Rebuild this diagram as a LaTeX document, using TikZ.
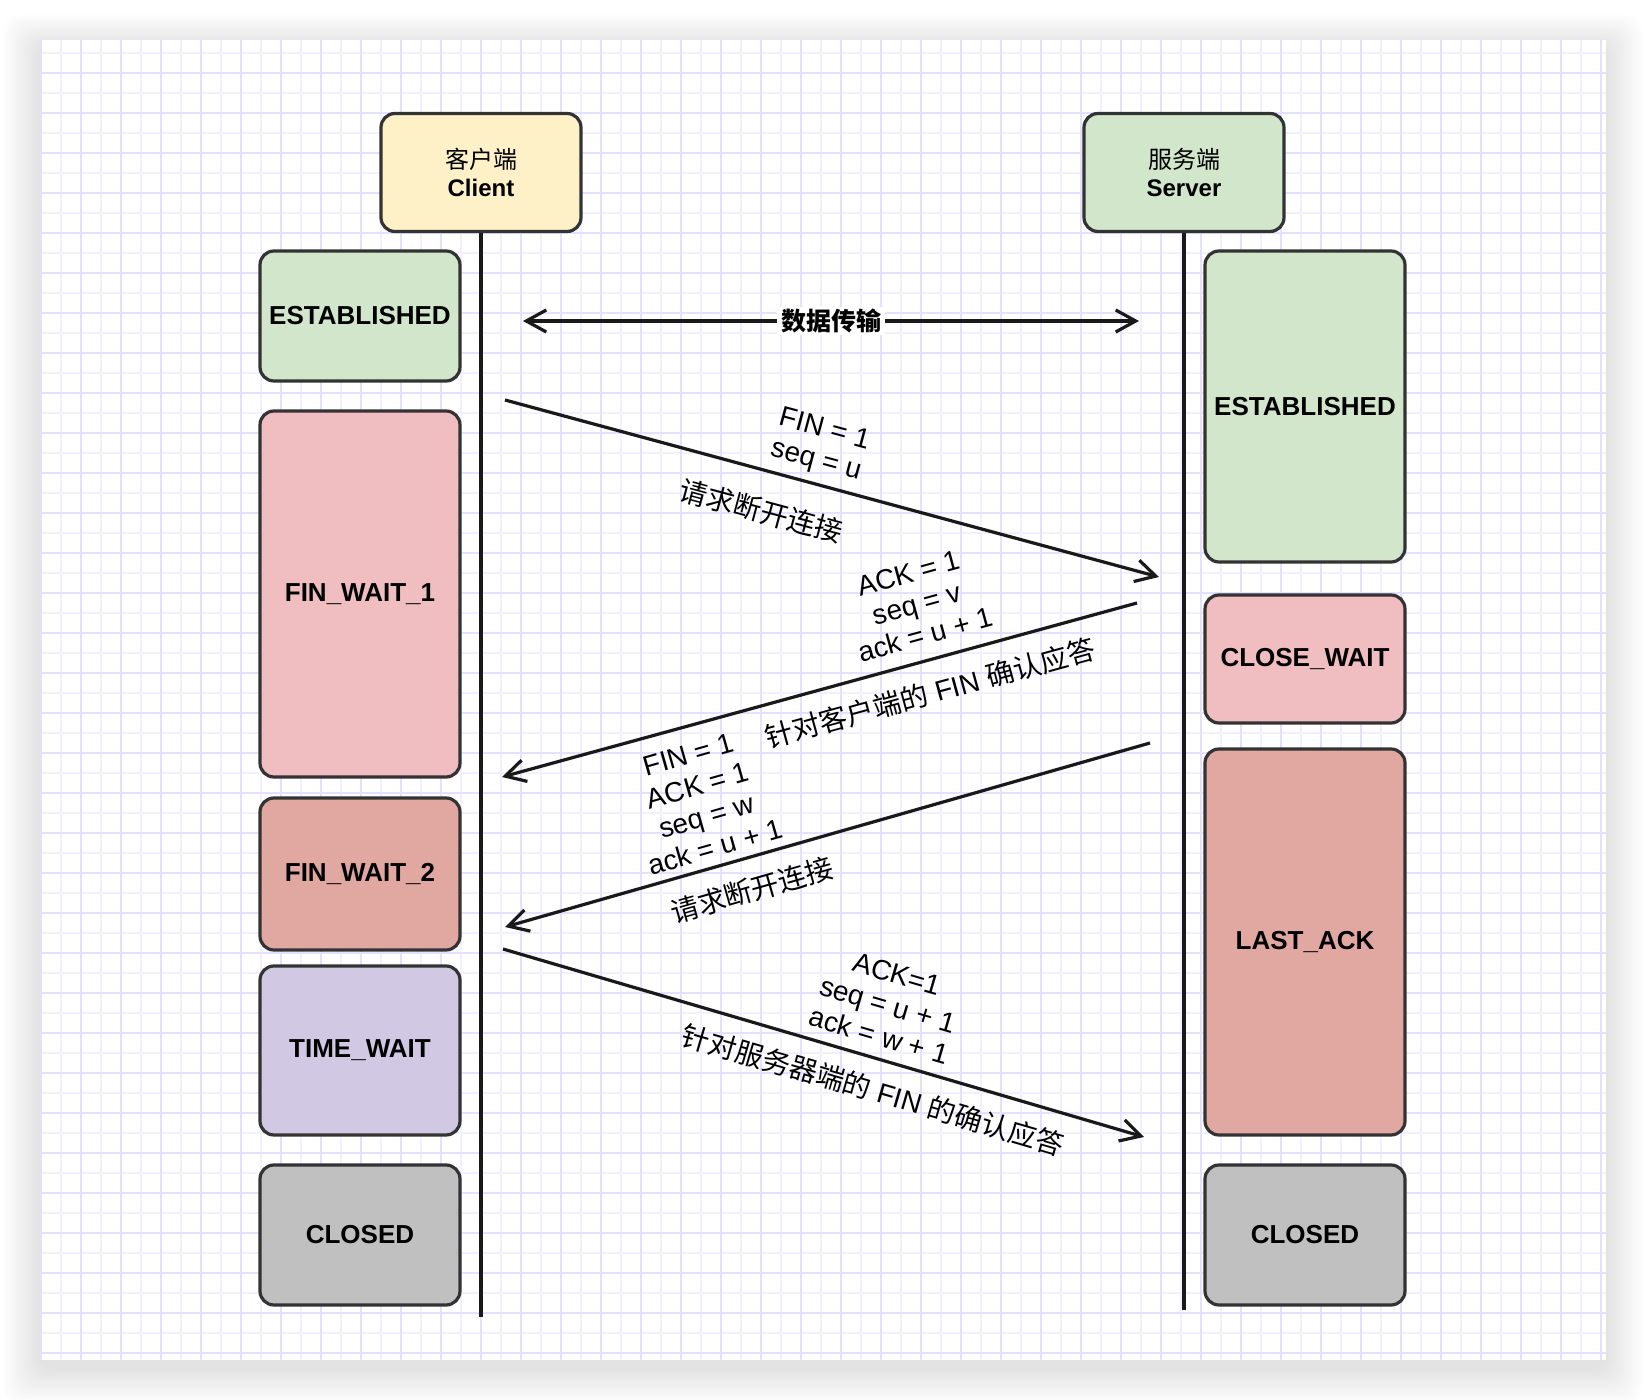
\documentclass[tikz,border=0pt]{standalone}
\usepackage{fontspec}
\setmainfont{Liberation Sans}
\newfontfamily\cjk{Noto Sans CJK SC}
\usetikzlibrary{arrows.meta}

\definecolor{gridmaj}{HTML}{E4E0FF}
\definecolor{gridmin}{HTML}{F2F0FF}
\definecolor{hdryellow}{HTML}{FFF1C7}
\definecolor{estgreen}{HTML}{D1E6CA}
\definecolor{waitpink}{HTML}{F0BEC1}
\definecolor{waitred}{HTML}{E0A8A0}
\definecolor{timepurple}{HTML}{D1C9E3}
\definecolor{closedgray}{HTML}{C0C0C0}
\definecolor{edgegray}{HTML}{333333}

\begin{document}
\begin{tikzpicture}[x=0.5pt, y=-0.5pt]

        % One unit is one pixel of the 1646 x 1400 page
        \tikzset{
            hdr/.style={draw=edgegray, line width=1.6pt, rounded corners=7pt,
                minimum width=100pt, minimum height=59pt, align=center,
                font=\fontsize{12}{14}\selectfont},
            state/.style={draw=edgegray, line width=1.6pt, rounded corners=7pt,
                minimum width=100pt, align=center,
                font=\fontsize{13}{15}\selectfont\bfseries},
            life/.style={line width=1.7pt, draw=black!90},
            msg/.style={line width=1.6pt, draw=black!90,
                -{Straight Barb[length=10pt, width=11pt]}},
            lbl/.style={font=\fontsize{14}{16}\selectfont, align=center,
                inner sep=0pt},
        }

        \useasboundingbox (0,0) rectangle (1646,1400);
        \fill[white] (0,0) rectangle (1646,1400);

        % Soft shadow round the canvas
        \foreach \i in {1,...,14}
            \fill[black, opacity=0.009, rounded corners=8pt]
                (40-2.6*\i, 46-2.2*\i) rectangle (1606+2.6*\i, 1368+2.6*\i);
        \fill[white] (40,40) rectangle (1606,1360);

        % Grid
        \begin{scope}
            \clip (40,40) rectangle (1606,1360);
            \foreach \x in {61,101,...,1601}
                \draw[gridmin, line width=0.6pt] (\x,40) -- (\x,1360);
            \foreach \y in {53,93,...,1353}
                \draw[gridmin, line width=0.6pt] (40,\y) -- (1606,\y);
            \foreach \x in {41,81,...,1601}
                \draw[gridmaj, line width=0.9pt] (\x,40) -- (\x,1360);
            \foreach \y in {73,113,...,1353}
                \draw[gridmaj, line width=0.9pt] (40,\y) -- (1606,\y);
        \end{scope}

        % Hosts and lifelines
        \node[hdr, fill=hdryellow] (cli) at (481,172.5) {{\cjk 客户端}\\\bfseries Client};
        \node[hdr, fill=estgreen] (srv) at (1184,172.5) {{\cjk 服务端}\\\bfseries Server};
        \coordinate (cliend) at (481,1317);
        \coordinate (srvend) at (1184,1310);
        \draw[life] (cli.south) -- (cliend);
        \draw[life] (srv.south) -- (srvend);

        % Client states
        \node[state, fill=estgreen, minimum height=65pt] (cest) at (360,316) {ESTABLISHED};
        \node[state, fill=waitpink, minimum height=183pt] (cfw1) at (360,594) {FIN\_WAIT\_1};
        \node[state, fill=waitred, minimum height=76pt] (cfw2) at (360,874) {FIN\_WAIT\_2};
        \node[state, fill=timepurple, minimum height=84.5pt] (ctw) at (360,1050.5) {TIME\_WAIT};
        \node[state, fill=closedgray, minimum height=70pt] (ccl) at (360,1235) {CLOSED};

        % Server states
        \node[state, fill=estgreen, minimum height=155.5pt] (sest) at (1305,406.5) {ESTABLISHED};
        \node[state, fill=waitpink, minimum height=64pt] (scw) at (1305,659) {CLOSE\_WAIT};
        \node[state, fill=waitred, minimum height=193pt] (sla) at (1305,942) {LAST\_ACK};
        \node[state, fill=closedgray, minimum height=70pt] (scl) at (1305,1235) {CLOSED};

        % Ends of the messages on the lifelines
        \coordinate (dl) at (523,321);
        \coordinate (dr) at (1139,321);
        \coordinate (m1a) at (505,400);
        \coordinate (m1b) at (1159,577);
        \coordinate (m2a) at (1137,603);
        \coordinate (m2b) at (502,777);
        \coordinate (m3a) at (1150,743);
        \coordinate (m3b) at (505,927);
        \coordinate (m4a) at (503,949);
        \coordinate (m4b) at (1144,1137);

        \draw[msg, {Straight Barb[length=10pt, width=11pt]}-{Straight Barb[length=10pt, width=11pt]}]
            (dl) -- (dr)
            node[midway, fill=white, inner xsep=2pt, inner ysep=1pt,
                font=\fontsize{12.5}{14}\selectfont] (data) {\cjk\bfseries 数据传输};
        \draw[msg] (m1a) -- (m1b);
        \draw[msg] (m2a) -- (m2b);
        \draw[msg] (m3a) -- (m3b);
        \draw[msg] (m4a) -- (m4b);

        % Message labels
        \node[lbl, rotate=-15.1] (fin1) at (820,446) {FIN = 1\\seq = u};
        \node[lbl, rotate=-15.1] (req1) at (761,511) {\cjk 请求断开连接};
        \node[lbl, rotate=15.3] (ack1) at (917,604) {ACK = 1\\seq = v\\ack = u + 1};
        \node[lbl, rotate=15.3] (rep1) at (930,693) {{\cjk 针对客户端的} FIN {\cjk 确认应答}};
        \node[lbl, rotate=15.9] (fin2) at (702,801) {FIN = 1\\ACK = 1\\seq = w\\ack = u + 1};
        \node[lbl, rotate=15.9] (req2) at (752,890) {\cjk 请求断开连接};
        \node[lbl, rotate=-16.3] (ack2) at (888,1005) {ACK=1\\seq = u + 1\\ack = w + 1};
        \node[lbl, rotate=-16.3] (rep2) at (873,1090) {{\cjk 针对服务器端的} FIN {\cjk 的确认应答}};

\end{tikzpicture}
\end{document}
